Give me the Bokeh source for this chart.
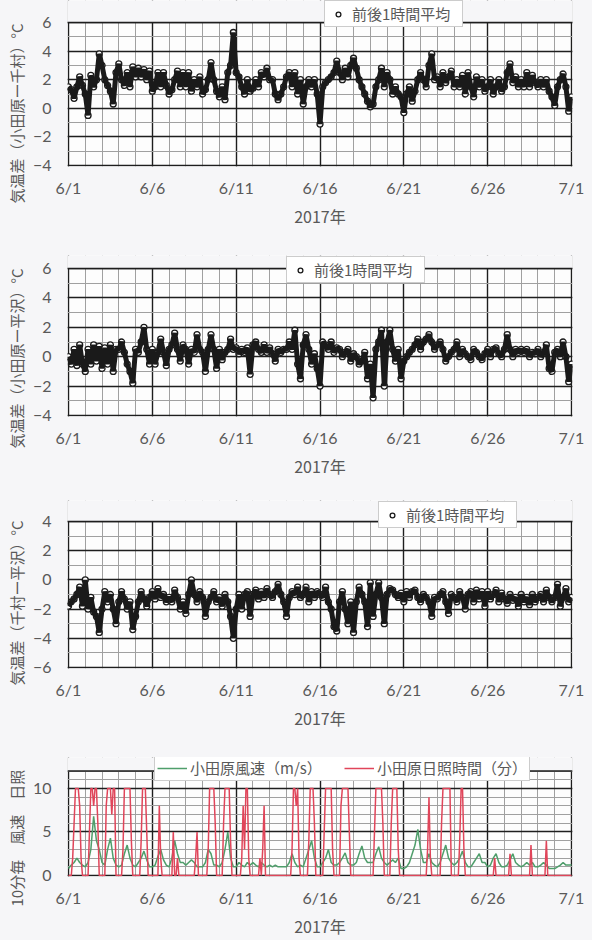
from bokeh.plotting import figure
from bokeh.layouts import column
from bokeh.models import (FixedTicker, Range1d, Legend, LegendItem, BoxAnnotation, Span,
                          Title)
from bokeh.embed import file_html
from bokeh.resources import INLINE

# ---- axis ticks (days after 6/1) ----
tick_days = [0, 5, 10, 15, 20, 25, 30]
tick_labels = ["6/1", "6/6", "6/11", "6/16", "6/21", "6/26", "7/1"]
day_minor = list(range(0, 31))
year_label = "2017年"
legend_avg = "前後1時間平均"

# ---- panel 1: 小田原 - 千村 (4-hourly readings, 6 per day) ----
diff_odawara_chimura = [
    1.5, 1.3, 0.7, 1.5, 2.2, 1.6,
    1.0, -0.5, 2.3, 1.5, 2.0, 3.8,
    3.0, 2.0, 1.6, 1.2, 0.3, 2.5,
    3.1, 2.0, 1.6, 2.5, 1.5, 2.9,
    2.2, 2.8, 2.2, 2.7, 2.0, 2.6,
    1.2, 1.5, 2.5, 1.5, 2.5, 1.6,
    1.0, 1.3, 2.0, 2.6, 1.5, 2.5,
    1.5, 2.5, 1.2, 2.0, 1.5, 2.2,
    1.0, 1.3, 2.0, 3.2, 2.0, 1.2,
    0.8, 1.5, 0.6, 2.5, 3.0, 5.3,
    2.5, 2.2, 1.5, 1.0, 2.0, 1.2,
    1.4, 2.0, 1.5, 2.5, 2.2, 2.8,
    2.0, 2.0, 1.0, 0.6, 1.0, 1.5,
    2.2, 2.5, 1.5, 2.5, 1.0, 2.0,
    0.3, 1.5, 2.0, 1.5, 2.0, 1.0,
    -1.1, 1.5, 1.8, 2.0, 2.2, 2.5,
    3.3, 2.5, 2.0, 2.8, 2.2, 3.0,
    3.5, 2.8, 2.0, 1.5, 1.0, 0.5,
    0.1, 0.3, 1.5, 2.0, 2.8, 1.5,
    2.5, 2.0, 1.0, 1.5, 1.0, 0.8,
    -0.3, 1.0, 1.5, 0.5, 1.2, 2.0,
    2.5, 2.0, 1.5, 3.0, 3.8, 2.0,
    2.2, 1.5, 2.5, 1.8, 2.2, 2.6,
    1.5, 2.0, 1.5, 2.3, 1.0, 2.5,
    1.5, 0.8, 2.2, 1.5, 2.0, 1.2,
    1.5, 2.0, 1.0, 1.5, 2.0, 1.2,
    1.5, 2.5, 3.1, 1.8, 2.2, 1.5,
    2.0, 1.5, 2.5, 1.5, 2.3, 1.8,
    1.5, 2.0, 1.5, 2.0, 1.2, 0.8,
    0.2, 1.5, 2.0, 2.4, 1.5, -0.2,
    0.8,
]

# ---- panel 2: 小田原 - 平沢 ----
diff_odawara_hirasawa = [
    0.0, -0.5, 0.5, -0.6, 0.8, -0.5,
    -1.0, 0.5, -0.5, 0.8, -0.3, 0.7,
    -0.8, 0.6, -0.5, 0.8, -1.0, 0.5,
    0.5, 1.0, 0.3, -0.5, -1.0, -1.8,
    0.5, 0.3, 1.0, 2.0, 0.5, -0.5,
    0.5, -0.5, 0.3, 1.2, 0.3, -0.6,
    0.5, 0.8, 1.6, 0.5, -0.3, 0.8,
    0.5, -0.5, 0.5, 0.3, 1.5, 0.5,
    0.3, -1.0, 0.5, 1.5, 0.5, -0.8,
    0.5, -0.2, 0.3, 0.5, 1.2, 0.5,
    0.6, 0.2, 0.5, 0.3, 0.6, -1.2,
    0.8, 1.0, 0.5, 0.3, 0.8, 0.3,
    0.6, 0.2, -0.3, 0.5, 0.3, 0.5,
    0.5, 1.0, 0.5, 1.8, -0.5, -1.5,
    0.8, 1.5, 0.5, -0.5, 0.2, -0.8,
    -2.0, 1.0, 0.8, 0.5, 1.0, 0.3,
    0.6, 0.5, 0.0, 0.3, 0.5, -0.3,
    0.2, 0.0, -0.5, -0.3, 0.3, -1.5,
    -0.5, -2.8, 0.5, 1.0, 1.8, -2.0,
    1.0, 1.8, 0.5, -0.3, 0.5, -1.5,
    -0.3, 0.0, 0.3, 0.5, 0.8, 1.2,
    0.5, 1.0, 1.2, 1.5, 1.0, 0.5,
    0.8, 1.0, 0.5, -0.3, 0.0, 0.3,
    0.5, 1.0, 0.0, 0.5, 0.2, 0.0,
    -0.2, 0.5, 0.3, 0.0, -0.2, 0.2,
    0.5, 0.0, 0.5, 0.6, 0.2, 0.0,
    0.5, 1.5, 0.5, 0.0, 0.5, 0.3,
    0.5, 0.3, 0.5, 0.0, 0.3, 0.2,
    0.5, 0.0, 0.3, 0.8, -0.8, -1.0,
    0.3, 0.5, 0.0, 1.0, 0.0, -1.7,
    -0.5,
]

# ---- panel 3: 千村 - 平沢 ----
diff_chimura_hirasawa = [
    -1.8, -1.5, -1.3, -1.0, -0.5, -1.8,
    0.0, -2.0, -1.2, -2.2, -2.5, -3.6,
    -2.0, -0.8, -1.5, -1.0, -2.0, -3.0,
    -1.5, -0.8, -1.3, -2.0, -1.5, -3.4,
    -2.5, -1.5, -0.8, -1.3, -1.8, -1.2,
    -0.8, -1.3, -0.6, -1.2, -1.0, -1.5,
    -1.2, -1.5, -0.7, -1.2, -2.0, -1.5,
    -2.3, -1.0, 0.0, -1.0, -1.5, -0.8,
    -1.2, -2.5, -1.5, -1.2, -0.8, -1.5,
    -1.2, -1.8, -1.0, -1.5, -2.5, -4.0,
    -2.0, -1.0, -2.0, -1.0, -0.8, -2.5,
    -1.0, -0.7, -1.3, -0.8, -1.2, -0.6,
    -1.0, -1.2, -0.8, -0.3, -1.0, -1.5,
    -2.5, -1.2, -0.8, -1.0, -0.5, -1.2,
    -1.0, -0.5, -1.5, -0.8, -1.2, -0.8,
    -1.0, -1.2, -0.5, -1.5, -2.0, -3.2,
    -3.5, -1.5, -0.8, -2.0, -3.0, -1.5,
    -3.6, -1.5, -0.5, -1.0, -1.5, -3.2,
    -0.2, -2.5, -1.0, -0.2, -1.2, -3.0,
    -1.0, -0.6, -0.7, -1.0, -1.2, -0.9,
    -1.5, -0.8, -1.2, -0.8, -0.7, -1.2,
    -1.5, -1.0, -1.2, -1.5, -2.5, -1.2,
    -1.3, -1.0, -0.8, -1.5, -2.3, -1.0,
    -1.2, -1.5, -0.8, -1.2, -2.0, -1.0,
    -0.8, -1.5, -0.7, -1.3, -0.8, -1.8,
    -0.8, -1.3, -1.0, -0.7, -1.5, -0.9,
    -1.3, -1.6, -1.0, -1.4, -1.2, -1.8,
    -1.0, -1.5, -1.2, -1.7, -1.0, -1.5,
    -1.2, -1.0, -1.5, -0.7, -1.2, -1.5,
    -1.2, -0.3, -1.8, -1.2, -0.6, -1.5,
    -1.2,
]

# ---- panel 4: wind speed (m/s), 4-hourly ----
wind_odawara = [
    0.8, 1.2, 1.5, 2.0, 1.5, 1.2,
    1.0, 1.5, 3.0, 6.8, 4.0, 3.0,
    1.5, 1.2, 3.0, 4.3, 2.0, 1.2,
    1.0, 1.2, 2.5, 3.5, 2.0, 1.2,
    1.0, 1.5, 2.0, 2.8, 1.8, 1.0,
    1.0, 1.2, 2.2, 3.0, 1.8, 1.2,
    1.0, 2.0, 4.0, 2.5, 1.5, 1.5,
    1.2, 1.5, 1.8, 1.5, 1.0, 1.0,
    1.0, 1.5, 3.0, 2.5, 1.2, 1.2,
    1.0, 1.5, 3.0, 5.0, 2.0, 1.0,
    1.0, 1.5, 1.2, 1.0, 1.5, 1.2,
    1.5, 1.2, 1.0, 1.5, 1.2, 1.0,
    1.2, 1.0, 1.2, 1.0, 1.0, 1.0,
    1.0, 1.5, 2.5, 1.5, 1.0, 1.2,
    1.0, 2.0, 3.0, 4.0, 2.0, 1.0,
    1.0, 1.5, 2.0, 3.0, 1.5, 1.2,
    1.2, 1.5, 2.0, 2.6, 1.5, 1.2,
    1.2, 1.5, 2.5, 3.4, 2.0, 1.5,
    1.5, 1.5, 2.5, 3.3, 2.0, 1.5,
    1.2, 1.5, 1.8, 1.5, 2.0, 0.8,
    0.8, 1.0, 1.5, 2.5, 3.5, 5.3,
    3.0, 1.5, 1.5, 2.5, 1.5, 1.2,
    1.0, 1.5, 2.5, 3.5, 2.0, 1.5,
    1.2, 1.5, 2.0, 2.8, 1.5, 1.0,
    1.0, 1.5, 2.0, 2.5, 1.5, 1.5,
    1.0, 1.2, 2.0, 2.5, 1.5, 1.0,
    1.0, 1.2, 1.8, 2.5, 1.5, 1.2,
    1.0, 1.2, 1.5, 1.2, 1.5, 1.0,
    1.0, 1.2, 1.5, 1.2, 0.8, 0.8,
    0.8, 1.0, 1.2, 1.5, 1.2, 1.2,
    1.2,
]

# ---- panel 4: sunshine minutes per 10 min, 2-hourly (12 per day) ----
sun_odawara = [
    0, 0, 0, 2, 6, 10, 10, 10, 8, 2, 0, 0,
    0, 0, 0, 5, 10, 10, 8, 10, 10, 6, 0, 0,
    0, 0, 0, 8, 10, 10, 10, 7, 10, 10, 0, 0,
    0, 0, 0, 3, 10, 10, 10, 10, 10, 4, 0, 0,
    0, 0, 0, 0, 4, 10, 10, 10, 5, 0, 0, 0,
    0, 0, 0, 0, 0, 8, 2, 0, 0, 0, 0, 0,
    0, 0, 0, 5, 0, 0, 2, 0, 0, 0, 0, 0,
    0, 0, 0, 0, 0, 0, 0, 2, 5, 0, 0, 0,
    0, 0, 0, 0, 3, 10, 10, 10, 10, 6, 0, 0,
    0, 0, 0, 6, 10, 10, 10, 10, 4, 0, 0, 0,
    0, 0, 0, 0, 2, 8, 3, 10, 10, 2, 0, 0,
    0, 0, 0, 0, 0, 2, 0, 3, 8, 0, 0, 0,
    0, 0, 0, 0, 0, 0, 0, 0, 0, 0, 0, 0,
    0, 0, 0, 0, 3, 10, 10, 8, 10, 2, 0, 0,
    0, 0, 0, 0, 4, 10, 10, 10, 6, 0, 0, 0,
    0, 0, 0, 5, 10, 10, 10, 10, 10, 3, 0, 0,
    0, 0, 0, 8, 10, 10, 10, 10, 10, 5, 0, 0,
    0, 0, 0, 0, 0, 0, 0, 0, 0, 0, 0, 0,
    0, 0, 0, 5, 10, 10, 10, 10, 10, 6, 0, 0,
    0, 0, 0, 6, 10, 10, 10, 10, 3, 0, 0, 0,
    0, 0, 0, 0, 0, 0, 0, 0, 0, 0, 0, 0,
    0, 0, 0, 0, 0, 3, 9, 2, 0, 0, 0, 0,
    0, 0, 0, 6, 10, 10, 10, 10, 10, 10, 0, 0,
    0, 0, 0, 0, 4, 10, 10, 3, 0, 0, 0, 0,
    0, 0, 0, 0, 0, 0, 0, 0, 0, 0, 0, 0,
    0, 0, 0, 0, 0, 2, 0, 0, 0, 0, 0, 0,
    0, 0, 0, 0, 2.5, 0, 0, 0, 0, 0, 0, 0,
    0, 0, 0, 0, 0, 0, 0, 3.5, 0, 0, 0, 0,
    0, 0, 0, 0, 0, 0, 4, 0, 0, 0, 0, 0,
    0, 0, 0, 0, 0, 0, 0, 0, 0, 0, 0, 0,
    0,
]

t4 = [i / 6 for i in range(len(diff_odawara_chimura))]
t2 = [i / 12 for i in range(len(sun_odawara))]

TXT = "#595959"
NUM_FONT = "Lato"
JP_FONT = "Noto Sans CJK JP"
BG = "#f6f6f8"
DARK = "#1e1e1e"
W = 592
PLOT_L, PLOT_R = 67, 571          # pixel x of day 0 and day 30
PX_DAY = (PLOT_R - PLOT_L) / 30.0
LEG_H = 28                         # room kept above the legend box


def base_fig(fig_top, height, frame_top, tick_top, tick_bot, ymin, ymax, yticks, yminor,
             ylabel, label_bottom):
    ppu = (tick_bot - tick_top) / (ymax - ymin)
    y_end = ymax + (tick_top - frame_top) / ppu
    y_start = ymin - 1.0 / ppu
    frame_bot = tick_bot + 1
    p = figure(width=W, height=height,
               x_range=Range1d(-1.0 / PX_DAY, 30 + 1.0 / PX_DAY),
               y_range=Range1d(y_start, y_end),
               output_backend="svg", toolbar_location=None,
               min_border_left=PLOT_L - 1, min_border_right=W - PLOT_R - 1,
               min_border_top=frame_top - fig_top,
               min_border_bottom=fig_top + height - frame_bot)
    p.background_fill_color = "#fdfdfd"
    p.border_fill_color = BG
    p.outline_line_color = None
    p.xaxis.ticker = FixedTicker(ticks=tick_days, minor_ticks=day_minor)
    p.xaxis.major_label_overrides = {d: s for d, s in zip(tick_days, tick_labels)}
    p.yaxis.ticker = FixedTicker(ticks=yticks, minor_ticks=yminor)
    for ax in (p.xaxis, p.yaxis):
        ax.axis_line_color = None
        ax.major_tick_line_color = None
        ax.minor_tick_line_color = None
        ax.major_tick_out = 0
        ax.major_tick_in = 0
        ax.major_label_text_font = NUM_FONT
        ax.major_label_text_font_size = "16px"
        ax.major_label_text_color = TXT
        ax.axis_label_text_font = JP_FONT
        ax.axis_label_text_font_style = "normal"
        ax.axis_label_text_color = TXT
    p.xaxis.major_label_standoff = 7
    p.yaxis.major_label_standoff = 12
    p.xaxis.axis_label = year_label
    p.xaxis.axis_label_text_font_size = "16px"
    p.xaxis.axis_label_standoff = 4
    # vertical y label as a left-side title, its lower end placed like the original
    p.add_layout(Title(text=ylabel, align="left", offset=frame_bot - label_bottom,
                       standoff=6, text_font=JP_FONT, text_font_size="15px",
                       text_font_style="normal", text_color=TXT), "left")
    for g in (p.xgrid, p.ygrid):
        g.grid_line_color = DARK
        g.grid_line_width = 1.4
        g.minor_grid_line_color = "#a0a0a0"
        g.minor_grid_line_width = 1
    # blank strip above the top tick so that the legend can overlap the plot edge
    p.add_layout(BoxAnnotation(bottom=ymax, fill_color=BG, fill_alpha=1, line_color=None))
    p.add_layout(Span(location=ymax, dimension="width", line_color=DARK, line_width=1.5))
    p._frame_bot = frame_bot
    return p


def make_legend(items, x_px, bottom_px, frame_bot, **kw):
    opts = dict(location=(x_px - (PLOT_L - 1), frame_bot - bottom_px),
                orientation="horizontal", padding=2, margin=0,
                label_text_font=JP_FONT, label_text_font_size="15px",
                label_text_color=TXT, label_text_line_height=1.0,
                glyph_height=12, label_height=14, label_standoff=3,
                border_line_color="#9a9a9a", border_line_width=1.2,
                background_fill_color="white", background_fill_alpha=1)
    opts.update(kw)
    return Legend(items=items, **opts)


def diff_panel(fig_top, height, tick_top, tick_bot, ymin, ymax, yticks, ylabel, values,
               leg_x, leg_bottom, label_bottom):
    frame_top = max(fig_top, leg_bottom - LEG_H)
    p = base_fig(fig_top, height, frame_top, tick_top, tick_bot, ymin, ymax, yticks,
                 list(range(ymin, ymax + 1)), ylabel, label_bottom)
    sc = p.scatter(t4, values, size=6, marker="circle", line_color="#1a1a1a",
                   fill_color="white", line_width=1.3)
    p.line(t4, values, line_color="#1a1a1a", line_width=5)
    leg = make_legend([LegendItem(label=legend_avg, renderers=[sc])], leg_x, leg_bottom,
                      p._frame_bot, glyph_width=22, label_width=108)
    p.add_layout(leg, "center")
    return p


p1 = diff_panel(0, 248, 22, 165, -4, 6, [-4, -2, 0, 2, 4, 6],
                "気温差（小田原ー千村）°C", diff_odawara_chimura, 323, 27, 203)
p2 = diff_panel(248, 250, 268, 415, -4, 6, [-4, -2, 0, 2, 4, 6],
                "気温差（小田原ー平沢）°C", diff_odawara_hirasawa, 285, 283, 448)
p3 = diff_panel(498, 252, 521, 667, -6, 4, [-6, -4, -2, 0, 2, 4],
                "気温差（千村ー平沢）°C", diff_chimura_hirasawa, 377, 528, 685)

p4 = base_fig(750, 190, 785 - LEG_H, 771, 879, 0, 12, [0, 5, 10], list(range(0, 13)),
              "10分毎　風速　日照", 910)
g = p4.line(t4, wind_odawara, line_color="#4f9e6b", line_width=1.5)
r = p4.line(t2, sun_odawara, line_color="#e0455a", line_width=1.5)
leg4 = make_legend([LegendItem(label="小田原風速（m/s）", renderers=[g]),
                    LegendItem(label="小田原日照時間（分）", renderers=[r])],
                   153, 785, p4._frame_bot, spacing=4, glyph_width=30, label_width=150)
p4.add_layout(leg4, "center")

layout = column(p1, p2, p3, p4, spacing=0)
layout.background = BG
open("out.html", "w").write(file_html(layout, INLINE))
